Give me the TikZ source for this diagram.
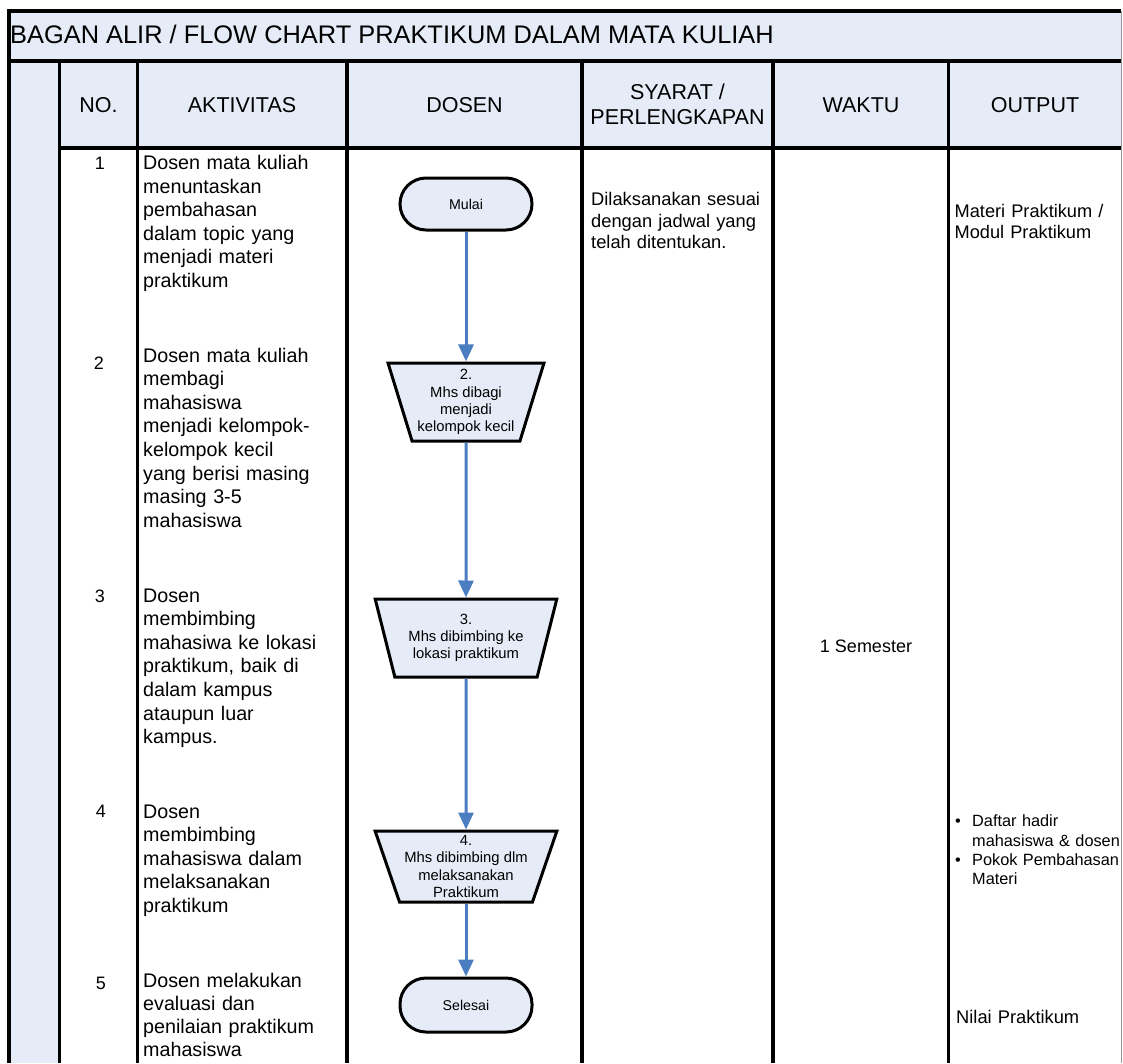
\documentclass[tikz,border=0pt]{standalone}
\usepackage{fontspec}
\setmainfont{Liberation Sans}
\usetikzlibrary{shapes.geometric,arrows.meta}
\definecolor{headblue}{RGB}{230,236,247}
\definecolor{flowblue}{RGB}{74,126,193}
\definecolor{edgegray}{RGB}{150,150,150}
\newcommand{\fsz}[2]{\fontsize{#1}{#2}\selectfont}

\begin{document}
\begin{tikzpicture}[x=1pt, y=-1pt,
  grid/.style={line width=3.4pt, black},
  terminal/.style={draw, line width=3pt, fill=headblue, rectangle, rounded corners=26pt,
    minimum width=132pt, minimum height=52pt, inner sep=0pt, font=\fsz{14.2}{17}},
  process/.style={draw, line width=3pt, fill=headblue, trapezium, trapezium stretches=true,
    shape border rotate=180, trapezium left angle=71.6, trapezium right angle=71.6,
    minimum height=78pt, inner sep=0pt, align=center, font=\fsz{14.8}{17.2}},
  flow/.style={flowblue, line width=3pt, -{Triangle[width=15pt,length=17pt]}},
  head/.style={align=center, inner sep=0pt, font=\fsz{21.5}{25}},
  num/.style={anchor=base, inner sep=0pt, font=\fsz{18}{21}},
  akt/.style={anchor=base west, text width=200pt, align=left, inner sep=0pt, font=\fsz{19.7}{23.6}},
  note/.style={anchor=base west, text width=170pt, align=left, inner sep=0pt, font=\fsz{18.3}{21.3}},
  bullet/.style={anchor=base west, text width=170pt, align=left, inner sep=0pt, font=\fsz{16.3}{19.3}}]
  \useasboundingbox (0,0) rectangle (1123,1063);

  % Table background
  \fill[headblue] (9,11) rectangle (1121,61);
  \fill[headblue] (59.5,61) rectangle (1121,148);
  \fill[headblue] (9,61) rectangle (59.5,1063);

  % Grid lines
  \draw[grid] (9,1063) -- (9,11) -- (1121,11);
  \draw[grid] (9,61) -- (1121,61);
  \draw[grid] (59.5,148) -- (1121,148);
  \foreach \xx in {59.5,137.5,347,582,773,948.5}
    \draw[grid] (\xx,61) -- (\xx,1063);
  \draw[edgegray, line width=1pt] (1121,11) -- (1121,1063);

  % Title and column heads
  \node[anchor=base west, inner sep=0pt, font=\fsz{25.4}{30}] (title) at (10,43) {BAGAN ALIR / FLOW CHART PRAKTIKUM DALAM MATA KULIAH};
  \node[head] (hno) at (98.5,105) {NO.};
  \node[head] (hakt) at (242,105) {AKTIVITAS};
  \node[head] (hdosen) at (464.5,105) {DOSEN};
  \node[head] (hsyarat) at (677.5,104) {SYARAT /\\PERLENGKAPAN};
  \node[head] (hwaktu) at (861,105) {WAKTU};
  \node[head] (houtput) at (1035,105) {OUTPUT};

  % Numbers
  \node[num] (n1) at (100,169) {1};
  \node[num] (n2) at (99,369) {2};
  \node[num] (n3) at (100,602) {3};
  \node[num] (n4) at (101,817) {4};
  \node[num] (n5) at (101,989) {5};

  % Activities
  \node[akt] (a1) at (143,169.5) {Dosen mata kuliah\\menuntaskan\\pembahasan\\dalam topic yang\\menjadi materi\\praktikum};
  \node[akt] (a2) at (143,362) {Dosen mata kuliah\\membagi\\mahasiswa\\menjadi kelompok-\\kelompok kecil\\yang berisi masing\\masing 3-5\\mahasiswa};
  \node[akt] (a3) at (143,602) {Dosen\\membimbing\\mahasiwa ke lokasi\\praktikum, baik di\\dalam kampus\\ataupun luar\\kampus.};
  \node[akt] (a4) at (143,818) {Dosen\\membimbing\\mahasiswa dalam\\melaksanakan\\praktikum};
  \node[akt, font=\fsz{19.7}{23}] (a5) at (143,987) {Dosen melakukan\\evaluasi dan\\penilaian praktikum\\mahasiswa};

  % Flow of the lecturer
  \node[terminal] (mulai) at (466,204) {Mulai};
  \node[process, minimum width=156pt] (t2) at (466,402) {2.\\Mhs dibagi\\menjadi\\kelompok kecil};
  \node[process, minimum width=182pt] (t3) at (466,638) {3.\\Mhs dibimbing ke\\lokasi praktikum};
  \node[process, minimum width=182pt, minimum height=71pt, trapezium left angle=69.9,
    trapezium right angle=69.9] (t4) at (466,866.5) {4.\\Mhs dibimbing dlm\\melaksanakan\\Praktikum};
  \node[terminal, minimum height=54pt] (selesai) at (466,1005) {Selesai};

  \draw[flow] (mulai) -- (t2);
  \draw[flow] (t2) -- (t3);
  \draw[flow] (t3) -- (t4);
  \draw[flow] (t4) -- (selesai);

  % Requirements, time, output
  \node[note] (syarat) at (591,205.7) {Dilaksanakan sesuai\\dengan jadwal yang\\telah ditentukan.};
  \node[font=\fsz{18}{21}, inner sep=0pt] (waktu) at (866,646) {1 Semester};
  \node[note, font=\fsz{18.2}{21}] (out1) at (954.5,217.5) {Materi Praktikum /\\Modul Praktikum};
  \node[bullet] (out4) at (955,826.9) {\makebox[17pt][l]{\textbullet}Daftar hadir\\\hspace*{17pt}mahasiswa \& dosen\\\makebox[17pt][l]{\textbullet}Pokok Pembahasan\\\hspace*{17pt}Materi};
  \node[note] (out5) at (956,1023) {Nilai Praktikum};
\end{tikzpicture}
\end{document}
